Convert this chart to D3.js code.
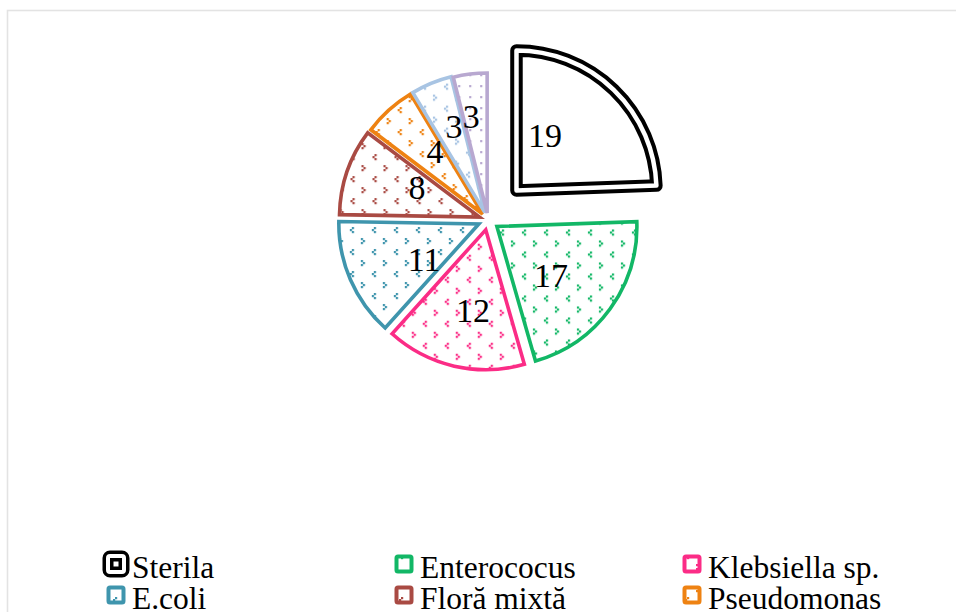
<!DOCTYPE html>
<html>
<head>
<meta charset="utf-8">
<script src="https://cdn.jsdelivr.net/npm/d3@7"></script>
<style>
html,body{margin:0;padding:0;background:#fff;overflow:hidden;}
svg{display:block;}
text{font-family:"Liberation Serif","Times New Roman",Times,serif;}
</style>
</head>
<body>
<svg id="chart" width="956" height="612"></svg>
<script>
// ---- data ----
const categories = ["Sterila", "Enterococus", "Klebsiella sp.", "E.coli", "Floră mixtă", "Pseudomonas", "Staphylococcus", "Proteus"];
// numbers printed on the slices
const values = [19, 17, 12, 11, 8, 4, 3, 3];
// slice sizes (degrees out of 360)
const shares = [88, 76, 58, 49, 36, 22, 17, 14];
const colors = ["#000000", "#12b766", "#fb2c86", "#3f95ad", "#a94a43", "#ee8212", "#a8c4e3", "#b8a8d0"];
const patterns = ["none", "chevron", "chevron", "chevron", "chevron", "chevron", "chevron", "dots"];

// ---- style / layout config ----
const explode = [41, 11, 10, 10, 9, 8, 8, 7];
const labelDist = [62, 73, 82, 65, 69, 79, 92, 98];
const labelFrac = [0.31, 0.58, 0.43, 0.31, 0.67, 0.72, 0.67, 0.33];
const cx = 488, cy = 220, R = 140;

const svg = d3.select("#chart");

// frame
svg.append("rect").attr("x", 7.5).attr("y", 10.5).attr("width", 1200).attr("height", 900)
  .attr("fill", "none").attr("stroke", "#e3e3e3").attr("stroke-width", 1.6);

// patterns
const defs = svg.append("defs");
colors.forEach((c, i) => {
  if (patterns[i] === "none") return;
  if (patterns[i] === "chevron") {
    const p = defs.append("pattern").attr("id", "pat" + i).attr("patternUnits", "userSpaceOnUse")
      .attr("width", 22).attr("height", 22);
    p.append("rect").attr("width", 22).attr("height", 22).attr("fill", "#fff");
    [[5,3],[3,5],[5,7],[14,14],[16,16],[14,18]].forEach(([x,y]) =>
      p.append("rect").attr("x", x).attr("y", y).attr("width", 2.2).attr("height", 2.2).attr("fill", c));
  } else {
    const p = defs.append("pattern").attr("id", "pat" + i).attr("patternUnits", "userSpaceOnUse")
      .attr("width", 11).attr("height", 11);
    p.append("rect").attr("width", 11).attr("height", 11).attr("fill", "#fff");
    p.append("rect").attr("x", 4).attr("y", 4).attr("width", 2.2).attr("height", 2.2).attr("fill", c);
  }
});
const fillFor = i => patterns[i] === "none" ? "#fff" : `url(#pat${i})`;

// pie
const pie = d3.pie().sort(null).value(d => d.s).startAngle(0).endAngle(2 * Math.PI);
const data = pie(categories.map((c, i) => ({ c, v: values[i], s: shares[i], i })));
const arc = d3.arc().innerRadius(0).outerRadius(R);

const g = svg.append("g").attr("transform", `translate(${cx},${cy})`);

data.forEach(d => {
  const i = d.data.i;
  const mid = (d.startAngle + d.endAngle) / 2;
  const ox = Math.sin(mid) * explode[i], oy = -Math.cos(mid) * explode[i];
  const sg = g.append("g").attr("transform", `translate(${ox},${oy})`);
  if (patterns[i] === "none") {
    sg.append("path").attr("d", arc(d)).attr("fill", "#fff")
      .attr("stroke", colors[i]).attr("stroke-width", 12.5).attr("stroke-linejoin", "round");
    sg.append("path").attr("d", arc(d)).attr("fill", "none")
      .attr("stroke", "#fff").attr("stroke-width", 4.5).attr("stroke-linejoin", "round");
  } else {
    sg.append("path").attr("d", arc(d)).attr("fill", fillFor(i))
      .attr("stroke", colors[i]).attr("stroke-width", 3.6).attr("stroke-linejoin", "miter");
  }
});

// labels
data.forEach(d => {
  const i = d.data.i;
  const mid = (d.startAngle + d.endAngle) / 2;
  const ox = Math.sin(mid) * explode[i], oy = -Math.cos(mid) * explode[i];
  const la = d.startAngle + labelFrac[i] * (d.endAngle - d.startAngle);
  const lx = ox + Math.sin(la) * labelDist[i], ly = oy - Math.cos(la) * labelDist[i];
  g.append("text").attr("x", lx).attr("y", ly).attr("dy", "0.34em")
    .attr("text-anchor", "middle")
    .attr("font-size", 34).attr("fill", "#000").text(d.data.v);
});

// legend (third row falls below the visible area, as in the original)
const colX = [116, 404, 692], rowY = [564, 595];
const lg = svg.append("g");
categories.forEach((c, i) => {
  const col = i % 3, row = Math.floor(i / 3);
  if (row >= rowY.length) return;
  const x = colX[col], y = rowY[row];
  if (patterns[i] === "none") {
    lg.append("rect").attr("x", x - 8).attr("y", y - 8).attr("width", 16).attr("height", 16)
      .attr("rx", 2).attr("fill", "#fff").attr("stroke", colors[i]).attr("stroke-width", 11).attr("stroke-linejoin", "round");
    lg.append("rect").attr("x", x - 8).attr("y", y - 8).attr("width", 16).attr("height", 16)
      .attr("rx", 2).attr("fill", "none").attr("stroke", "#fff").attr("stroke-width", 4).attr("stroke-linejoin", "round");
  } else {
    lg.append("rect").attr("x", x - 7.5).attr("y", y - 7.5).attr("width", 15).attr("height", 15)
      .attr("rx", 1.5).attr("fill", fillFor(i)).attr("stroke", colors[i]).attr("stroke-width", 4);
  }
  lg.append("text").attr("x", x + 16).attr("y", y + 14)
    .attr("font-size", 31.5).attr("fill", "#000").text(c);
});
</script>
</body>
</html>
